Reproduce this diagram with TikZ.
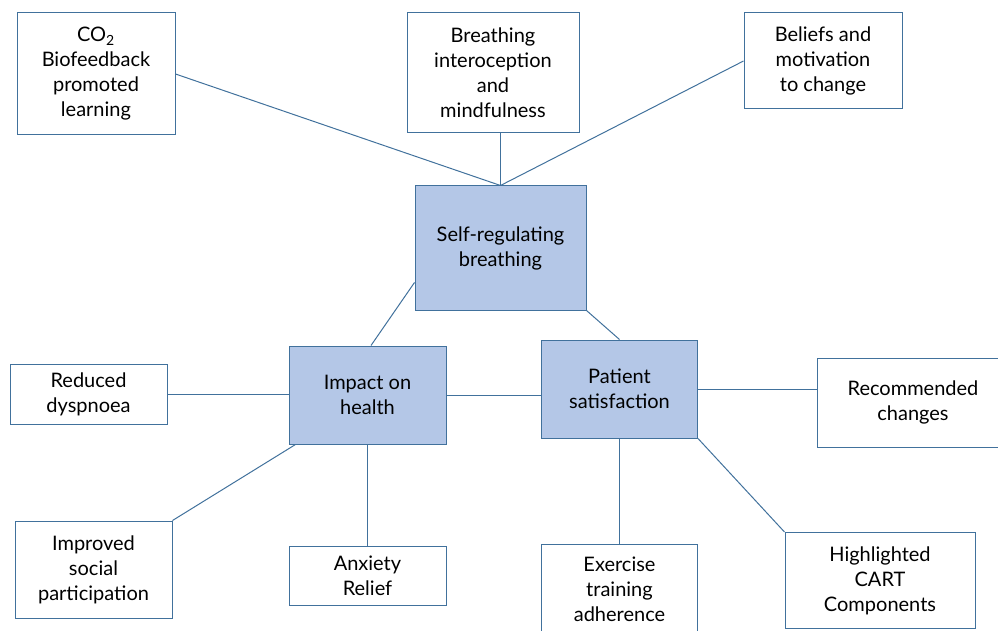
\documentclass[tikz,border=0pt]{standalone}
\usepackage{fontspec}
\setmainfont{Lato}
\usetikzlibrary{calc}
\definecolor{edgeblue}{HTML}{41719C}
\definecolor{fillblue}{HTML}{B4C7E7}
\begin{document}
\begin{tikzpicture}[x=1pt,y=-1pt,
  every node/.style={font=\fontsize{20}{25}\selectfont, align=center, inner sep=0pt},
  box/.style={draw=edgeblue, line width=1pt, fill=white, text=black},
  core/.style={box, fill=fillblue},
  link/.style={draw=edgeblue, line width=1pt}]
\useasboundingbox (0,0) rectangle (998,631);
% boxes: centre, width, height
\node[box, minimum width=158, minimum height=122] (co2) at (96,74) {CO\textsubscript{2}\\Biofeedback\\promoted\\learning};
\node[box, minimum width=172, minimum height=120] (bri) at (493,73) {Breathing\\interoception\\and\\mindfulness};
\node[box, minimum width=158, minimum height=96] (bel) at (823,61) {Beliefs and\\motivation\\to change};
\node[core, minimum width=171, minimum height=124] (srb) at (500.5,248) {Self-regulating\\breathing};
\node[core, minimum width=157, minimum height=98] (ioh) at (367.5,395) {Impact on\\health};
\node[core, minimum width=156, minimum height=98] (pts) at (619.5,389) {Patient\\satisfaction};
\node[box, minimum width=157, minimum height=60] (rdy) at (88.5,394.5) {Reduced\\dyspnoea};
\node[box, minimum width=157, minimum height=97] (isp) at (93.5,569.5) {Improved\\social\\participation};
\node[box, minimum width=157, minimum height=59] (anx) at (367.5,575.5) {Anxiety\\Relief};
\node[box, minimum width=192, minimum height=89] (rec) at (913,402.5) {Recommended\\changes};
\node[box, minimum width=156, minimum height=90] (ext) at (619.5,589) {Exercise\\training\\adherence};
\node[box, minimum width=190, minimum height=96] (hcc) at (880,580.5) {Highlighted\\CART\\Components};
% connectors
\draw[link] (co2.east) -- (srb.north);
\draw[link] (srb.north |- bri.south) -- (srb.north);
\draw[link] (bel.west) -- (srb.north);
\draw[link] ($(srb.south west)+(0,-28)$) -- ($(ioh.north)+(3.5,0)$);
\draw[link] (srb.south east) -- (pts.north);
\draw[link] (rdy.east) -- (ioh.west |- rdy.east);
\draw[link] ($(ioh.south west)+(7,0)$) -- (isp.north east);
\draw[link] (ioh.south) -- (anx.north);
\draw[link] (ioh.east) -- (pts.west |- ioh.east);
\draw[link] (pts.east) -- (rec.west |- pts.east);
\draw[link] (pts.south) -- (ext.north);
\draw[link] (pts.south east) -- (hcc.north west);
\end{tikzpicture}
\end{document}
